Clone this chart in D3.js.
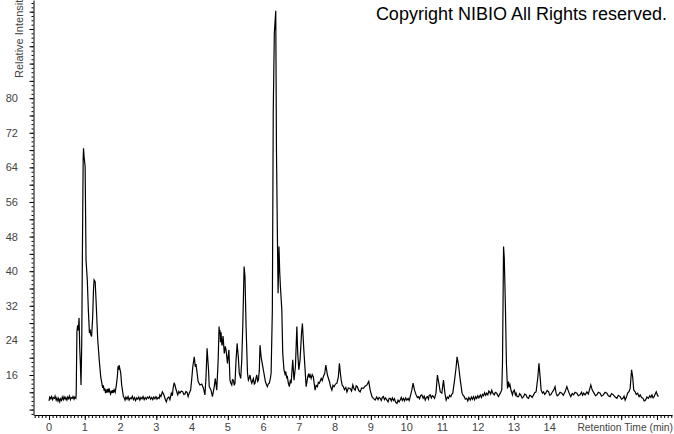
<!DOCTYPE html>
<html>
<head>
<meta charset="utf-8">
<script src="https://cdn.jsdelivr.net/npm/d3@7"></script>
<style>
  body { margin: 0; background: #fff; }
  svg { display: block; font-family: "Liberation Sans", Arial, sans-serif; }
</style>
</head>
<body>
<svg class="chart" width="674" height="434"></svg>
<script>
// chromatogram trace: [retention time (min), relative intensity]
const tracePoints = [
  [0.00,10.0],[0.02,10.9],[0.05,10.5],[0.07,11.0],[0.10,10.3],[0.12,10.8],[0.15,10.6],[0.17,11.1],[0.20,10.2],[0.22,10.7],
  [0.25,10.0],[0.27,10.6],[0.30,9.8],[0.32,10.5],[0.35,10.1],[0.37,10.9],[0.40,10.3],[0.42,11.0],[0.45,10.4],[0.47,10.8],
  [0.50,10.2],[0.52,10.9],[0.55,10.5],[0.57,11.1],[0.60,10.3],[0.62,10.8],[0.65,10.6],[0.67,11.0],[0.70,10.4],[0.72,10.9],[0.75,10.6],
  [0.76,11.5],[0.78,26.0],[0.80,27.5],[0.82,26.3],[0.84,29.2],[0.86,22.0],[0.875,19.0],[0.895,13.7],[0.915,23.4],[0.93,40.7],
  [0.955,66.0],[0.965,68.4],[0.98,66.5],[1.01,64.2],[1.035,42.6],[1.07,38.0],[1.10,31.0],[1.13,25.7],[1.15,26.5],[1.17,25.3],
  [1.19,24.9],[1.22,29.2],[1.245,36.0],[1.26,38.0],[1.29,37.6],[1.315,33.3],[1.36,24.5],[1.40,19.9],[1.445,15.6],[1.50,13.0],
  [1.52,13.6],[1.54,12.4],[1.56,12.9],[1.58,11.8],[1.60,12.6],[1.62,11.9],[1.64,12.8],[1.66,12.0],[1.68,12.9],[1.70,12.1],
  [1.72,11.6],[1.74,12.4],[1.76,11.8],[1.78,12.5],[1.80,11.9],[1.82,12.6],[1.85,12.0],[1.88,13.5],[1.91,15.6],[1.93,18.0],
  [1.95,17.2],[1.96,18.3],[1.98,17.5],[2.005,16.5],[2.03,13.8],[2.06,12.1],[2.08,11.0],[2.10,10.8],[2.125,10.2],
  [2.15,10.9],[2.18,10.4],[2.21,11.0],[2.24,10.2],[2.27,10.7],[2.30,10.5],[2.33,11.1],[2.36,10.3],[2.39,10.8],[2.42,10.1],
  [2.45,10.7],[2.48,10.4],[2.51,10.9],[2.54,10.2],[2.57,10.8],[2.60,10.5],[2.63,11.0],[2.66,10.3],[2.69,10.8],[2.72,10.4],
  [2.75,10.9],[2.78,10.6],[2.81,11.0],[2.84,10.4],[2.87,10.8],[2.90,10.3],[2.93,10.9],[2.96,10.5],[2.99,11.0],[3.02,10.4],
  [3.05,10.8],[3.08,10.6],
  [3.10,11.4],[3.13,11.0],[3.17,12.1],[3.21,11.5],[3.25,10.4],[3.28,9.8],[3.31,10.6],[3.35,10.9],[3.38,10.3],[3.42,11.8],
  [3.45,11.2],[3.47,13.0],[3.50,14.2],[3.53,13.4],[3.55,12.7],[3.58,11.9],[3.60,11.4],[3.63,12.2],[3.66,11.8],[3.70,12.3],
  [3.74,12.1],[3.77,11.5],[3.80,11.6],[3.83,12.2],[3.86,12.0],[3.89,11.0],[3.92,11.8],[3.96,12.5],[3.99,15.0],[4.02,17.9],
  [4.04,19.0],[4.06,20.2],[4.09,17.9],[4.11,18.5],[4.13,17.2],[4.17,14.5],[4.22,13.7],
  [4.27,13.9],[4.32,12.9],[4.36,11.4],[4.39,15.6],[4.42,22.2],[4.46,17.2],[4.48,13.3],[4.50,13.0],[4.53,12.5],[4.57,11.0],
  [4.62,13.3],[4.65,15.2],[4.69,12.5],[4.73,19.5],[4.755,27.2],[4.77,25.5],[4.78,26.4],[4.795,23.6],[4.81,25.9],[4.82,24.5],
  [4.835,22.8],[4.85,23.3],[4.865,25.0],[4.875,24.1],[4.90,21.0],[4.93,22.6],[4.95,21.8],[4.99,18.7],[5.03,21.8],[5.06,14.8],
  [5.08,14.2],[5.11,13.7],[5.13,14.9],[5.155,14.8],[5.18,13.6],[5.20,14.1],[5.23,19.5],[5.26,23.3],[5.295,19.9],[5.32,16.4],
  [5.36,15.2],[5.39,19.5],[5.42,27.9],[5.455,41.1],[5.48,38.7],[5.51,27.2],[5.55,16.4],[5.575,14.8],[5.60,15.3],[5.62,16.0],
  [5.65,14.6],[5.67,14.1],[5.70,14.9],[5.715,15.2],[5.74,13.9],[5.76,14.1],[5.79,15.4],[5.81,16.0],[5.835,14.5],[5.855,14.8],
  [5.88,17.0],[5.90,22.9],[5.93,20.2],[5.97,18.3],[6.01,16.4],[6.05,14.5],[6.08,13.8],[6.105,13.3],[6.13,13.9],[6.16,14.1],
  [6.19,15.2],[6.21,16.4],
  [6.245,31.0],[6.27,76.9],[6.30,95.0],[6.34,100.2],[6.36,68.0],[6.385,48.8],[6.405,34.9],[6.43,45.7],[6.45,40.0],[6.47,36.5],
  [6.51,31.0],[6.535,21.0],[6.57,17.2],[6.60,16.2],[6.62,16.8],[6.645,15.4],[6.665,15.6],[6.69,14.2],[6.72,13.3],[6.745,14.6],
  [6.77,14.1],[6.815,19.5],[6.85,14.8],[6.89,17.9],[6.93,27.2],[6.955,21.0],[6.985,17.2],[7.02,19.5],[7.06,25.6],[7.085,27.9],
  [7.125,21.8],[7.16,17.2],[7.19,13.3],[7.235,15.6],[7.26,16.3],[7.28,15.4],[7.30,16.0],[7.33,15.2],[7.36,16.1],[7.39,15.6],
  [7.44,12.5],[7.47,13.6],[7.505,13.3],[7.53,14.3],[7.56,14.1],[7.61,15.2],[7.64,14.7],[7.67,15.6],[7.71,16.4],[7.74,18.3],
  [7.785,16.0],[7.81,15.3],[7.84,14.5],[7.87,13.4],[7.91,12.5],[7.94,13.6],[7.97,13.3],[8.01,13.9],[8.05,14.1],[8.09,15.5],
  [8.12,18.7],[8.15,16.2],[8.17,14.8],[8.20,13.6],[8.23,13.3],[8.26,12.6],[8.30,13.1],[8.33,12.1],[8.37,13.0],[8.42,12.9],
  [8.46,12.3],[8.495,13.7],[8.53,12.8],[8.56,12.5],[8.59,13.5],[8.62,13.3],[8.66,12.4],[8.70,12.1],[8.74,13.0],[8.79,12.9],
  [8.84,13.4],[8.89,13.7],[8.94,14.5],[8.98,12.5],[9.03,11.0],[9.07,10.6],[9.12,10.2],[9.16,10.9],[9.20,10.3],[9.23,10.8],
  [9.26,10.6],
  [9.29,10.1],[9.32,10.8],[9.35,11.0],[9.38,10.3],[9.41,10.7],[9.45,10.2],[9.48,9.8],[9.51,10.6],[9.54,10.6],[9.57,10.0],
  [9.60,10.7],[9.63,10.1],[9.66,10.5],[9.69,9.7],[9.73,9.4],[9.76,10.2],[9.79,9.8],[9.82,10.2],[9.85,10.8],[9.88,10.1],
  [9.91,10.6],[9.94,10.0],[9.97,10.7],[10.005,10.2],[10.04,10.6],[10.07,10.1],[10.10,11.0],
  [10.145,12.5],[10.18,14.1],[10.22,12.5],[10.265,11.4],[10.30,10.8],[10.33,11.0],[10.36,10.5],[10.39,11.2],[10.425,11.4],[10.46,10.6],
  [10.49,11.1],[10.52,10.2],[10.55,10.8],[10.58,11.0],[10.61,10.4],[10.63,11.3],[10.66,11.4],[10.69,10.7],[10.72,11.2],[10.75,11.0],
  [10.78,10.6],[10.82,11.8],[10.86,16.0],[10.90,14.1],[10.94,12.1],[10.985,11.8],[11.03,14.8],[11.07,11.8],[11.105,10.2],[11.14,10.9],
  [11.17,10.6],[11.20,11.3],[11.235,11.0],[11.26,11.5],[11.29,11.8],[11.34,14.8],[11.385,17.9],[11.41,20.2],[11.45,18.3],[11.50,14.8],
  [11.55,11.8],[11.58,11.3],[11.61,11.0],[11.64,10.4],[11.68,10.6],[11.71,10.0],[11.74,10.8],[11.78,10.2],[11.81,10.9],[11.84,10.4],
  [11.87,11.0],[11.90,10.3],[11.93,11.0],[11.96,10.6],[11.99,11.2],[12.02,10.7],[12.06,11.4],[12.09,10.8],[12.12,11.5],[12.15,11.2],
  [12.18,11.9],[12.21,11.3],[12.24,11.8],[12.27,11.4],[12.30,12.3],[12.32,12.1],[12.35,11.6],[12.38,12.5],[12.41,11.8],[12.45,11.4],
  [12.48,12.0],[12.52,11.8],[12.55,11.2],[12.57,11.0],[12.60,11.6],[12.62,11.8],[12.66,12.6],
  [12.68,18.7],[12.71,45.7],[12.73,43.0],[12.76,32.6],[12.79,18.7],[12.82,12.9],[12.85,14.5],[12.87,13.2],[12.89,13.7],[12.92,12.4],
  [12.96,11.4],[12.98,12.2],[13.01,12.5],[13.04,11.4],[13.06,11.8],[13.09,11.0],[13.13,11.0],[13.16,11.7],[13.19,11.4],[13.23,10.7],
  [13.27,11.0],[13.30,11.6],[13.34,11.4],[13.37,10.8],[13.41,10.6],[13.44,11.3],[13.47,11.2],[13.51,10.8],[13.55,11.4],[13.58,11.9],
  [13.62,12.1],[13.67,15.6],[13.70,18.7],[13.73,15.8],[13.76,12.5],[13.80,11.8],[13.83,12.1],[13.86,11.5],[13.89,11.8],[13.93,12.4],
  [13.97,12.1],[14.00,11.3],[14.03,11.4],[14.07,12.0],[14.11,12.5],[14.15,13.3],[14.18,11.8],[14.21,11.2],[14.25,11.4],[14.29,12.0],
  [14.34,11.8],[14.38,11.3],[14.43,12.1],[14.48,13.3],[14.53,12.1],[14.56,11.5],[14.59,11.0],[14.63,11.7],[14.67,11.4],[14.71,12.0],
  [14.76,11.8],[14.80,11.2],[14.85,11.4],[14.89,12.0],[14.92,11.3],[14.95,11.8],[14.99,11.4],[15.04,12.1],[15.08,11.6],[15.11,12.5],
  [15.15,13.7],[15.19,12.5],[15.24,11.8],[15.28,11.2],[15.32,11.4],[15.36,12.0],[15.41,11.8],[15.45,11.1],[15.50,11.4],[15.55,12.0],
  [15.60,11.8],[15.64,11.2],[15.69,11.0],[15.73,11.7],[15.78,11.4],[15.83,10.9],[15.88,10.6],[15.92,11.3],[15.97,11.0],[16.01,10.4],
  [16.05,10.6],[16.08,11.1],[16.11,10.2],[16.15,11.0],[16.18,11.8],[16.22,12.2],[16.25,12.9],[16.29,17.2],[16.32,15.6],[16.35,12.5],
  [16.39,12.1],[16.42,11.5],[16.46,11.8],[16.50,11.0],[16.53,11.4],[16.57,10.8],[16.61,10.6],[16.64,10.0],[16.68,10.2],[16.72,10.9],
  [16.76,10.6],[16.80,11.2],[16.83,10.8],[16.86,11.4],[16.89,10.7],[16.92,11.0],[16.95,11.6],[16.98,12.1],[17.01,11.4],[17.04,11.0]
];

const xTickLabels = [0, 1, 2, 3, 4, 5, 6, 7, 8, 9, 10, 11, 12, 13, 14];
const yTickLabels = [16, 24, 32, 40, 48, 56, 64, 72, 80];
const xDomain = [-0.42, 17.42];
const yDomain = [6.75, 102.7];

const svg = d3.select(".chart");
const width = 674;
const height = 434;

svg.append("rect").attr("width", width).attr("height", height).attr("fill", "#fff");

const x = d3.scaleLinear().domain(xDomain).range([34, 672]);
const y = d3.scaleLinear().domain(yDomain).range([415, 0]);
const axisY0 = 415;
const axisX0 = 33.5;

// x axis: minor ticks every 0.1 min, longer ticks on whole minutes
const xMinor = d3.range(-4, 175).map(d => d / 10);
const xMajor = d3.range(0, 18);

svg.append("g")
  .attr("transform", `translate(0, ${axisY0})`)
  .call(d3.axisBottom(x).tickValues(xMinor).tickSize(3).tickSizeOuter(0).tickFormat(""))
  .call(g => g.selectAll("line,path").attr("stroke", "#000"));

svg.append("g")
  .attr("transform", `translate(0, ${axisY0})`)
  .call(d3.axisBottom(x).tickValues(xMajor).tickSize(5).tickSizeOuter(0).tickFormat(""))
  .call(g => g.select(".domain").remove())
  .call(g => g.selectAll("line").attr("stroke", "#000"));

svg.append("g")
  .selectAll("text")
  .data(xTickLabels)
  .join("text")
  .attr("x", d => x(d))
  .attr("y", 431)
  .attr("text-anchor", "middle")
  .attr("font-size", 11)
  .attr("fill", "#444")
  .text(d => d);

// y axis: minor ticks every 1 unit, longer ticks every 4
const yMinor = d3.range(7, 103);
const yMajor = d3.range(8, 103, 4);

svg.append("g")
  .attr("transform", `translate(${axisX0}, 0)`)
  .call(d3.axisLeft(y).tickValues(yMinor).tickSize(2).tickSizeOuter(0).tickFormat(""))
  .call(g => g.selectAll("line,path").attr("stroke", "#000"));

svg.append("g")
  .attr("transform", `translate(${axisX0}, 0)`)
  .call(d3.axisLeft(y).tickValues(yMajor).tickSize(4).tickSizeOuter(0).tickFormat(""))
  .call(g => g.select(".domain").remove())
  .call(g => g.selectAll("line").attr("stroke", "#000"));

svg.append("g")
  .selectAll("text")
  .data(yTickLabels)
  .join("text")
  .attr("x", 18)
  .attr("y", d => y(d) + 4)
  .attr("text-anchor", "end")
  .attr("font-size", 11)
  .attr("fill", "#444")
  .text(d => d);

// axis titles (the reference crops the y title at the top edge)
svg.append("text")
  .attr("transform", "translate(23, 78) rotate(-90)")
  .attr("font-size", 11)
  .attr("fill", "#444")
  .text("Relative Intensity");

svg.append("text")
  .attr("x", 673)
  .attr("y", 431)
  .attr("text-anchor", "end")
  .attr("font-size", 10.3)
  .attr("fill", "#444")
  .text("Retention Time (min)");

// the trace
const line = d3.line()
  .x(d => x(d[0]))
  .y(d => y(d[1]));

svg.append("path")
  .datum(tracePoints)
  .attr("d", line)
  .attr("fill", "none")
  .attr("stroke", "#000")
  .attr("stroke-width", 1.2)
  .attr("stroke-linejoin", "miter");

svg.append("text")
  .attr("x", 667)
  .attr("y", 20)
  .attr("text-anchor", "end")
  .attr("font-size", 18)
  .attr("fill", "#000")
  .text("Copyright NIBIO All Rights reserved.");
</script>
</body>
</html>
